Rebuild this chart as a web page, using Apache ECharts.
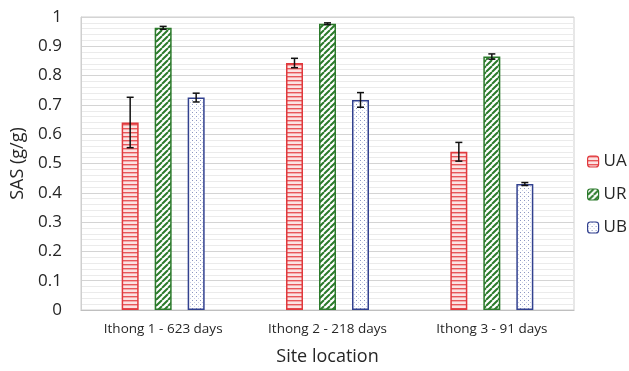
<!DOCTYPE html>
<html>
<head>
<meta charset="utf-8">
<script src="https://cdn.jsdelivr.net/npm/echarts@6/dist/echarts.min.js"></script>
<style>
  html, body { margin: 0; padding: 0; background: #fff; }
  #chart { width: 629px; height: 371px; }
</style>
</head>
<body>
<div id="chart"></div>
<script>
// Sites and measured specific absorption (g/g) with standard errors
const sites = ['Ithong 1 - 623 days', 'Ithong 2 - 218 days', 'Ithong 3 - 91 days'];
const seriesNames = ['UA', 'UR', 'UB'];
const uaValues = [0.64, 0.843, 0.54];
const urValues = [0.963, 0.977, 0.865];
const ubValues = [0.725, 0.717, 0.43];
const uaErrors = [0.086, 0.016, 0.032];
const urErrors = [0.005, 0.003, 0.009];
const ubErrors = [0.015, 0.025, 0.005];
const yTicks = [0, 0.1, 0.2, 0.3, 0.4, 0.5, 0.6, 0.7, 0.8, 0.9, 1];

const FONT = 'Open Sans';
const TEXT = '#262626';
const BAR_W = 17;
const BAR_STEP = 33;

// Fill patterns drawn on small canvases
function makePattern(w, h, draw) {
  const c = document.createElement('canvas');
  c.width = w; c.height = h;
  const ctx = c.getContext('2d');
  draw(ctx, w, h);
  return { image: c, repeat: 'repeat' };
}
const stripesRed = makePattern(4, 4, (ctx, w, h) => {
  ctx.fillStyle = '#fbe3e3'; ctx.fillRect(0, 0, w, h);
  ctx.fillStyle = '#e8575a'; ctx.fillRect(0, 0, w, 1.4);
});
const diagGreen = makePattern(6, 6, (ctx, w, h) => {
  ctx.fillStyle = '#ffffff'; ctx.fillRect(0, 0, w, h);
  ctx.strokeStyle = '#2b7a2b'; ctx.lineWidth = 2;
  ctx.beginPath();
  for (let k = -1; k <= 1; k++) {
    ctx.moveTo(k * w, h); ctx.lineTo(k * w + w, 0);
  }
  ctx.stroke();
});
const dotsBlue = makePattern(4, 4, (ctx, w, h) => {
  ctx.fillStyle = '#ffffff'; ctx.fillRect(0, 0, w, h);
  ctx.fillStyle = '#8d97c2'; ctx.fillRect(0, 0, 1, 1);
  ctx.fillStyle = '#c9cfe6'; ctx.fillRect(2, 2, 1, 1);
});

const fills = [stripesRed, diagGreen, dotsBlue];
const borders = ['#e0393d', '#2b7a2b', '#32418f'];
const values = [uaValues, urValues, ubValues];
const errors = [uaErrors, urErrors, ubErrors];

const barSeries = seriesNames.map((name, i) => ({
  name: name,
  type: 'bar',
  data: values[i],
  barWidth: BAR_W,
  barGap: ((BAR_STEP - BAR_W) / BAR_W * 100) + '%',
  itemStyle: { color: fills[i], borderColor: borders[i], borderWidth: 1.5 },
  z: 2
}));

const errorSeries = seriesNames.map((name, i) => ({
  type: 'custom',
  name: name + ' error',
  data: values[i].map((v, j) => [j, v - errors[i][j], v + errors[i][j]]),
  renderItem: function (params, api) {
    const lo = api.coord([api.value(0), api.value(1)]);
    const hi = api.coord([api.value(0), api.value(2)]);
    const x = lo[0] + (i - 1) * BAR_STEP;
    const cap = 3.5;
    const style = { stroke: '#111', lineWidth: 1.5 };
    return {
      type: 'group',
      children: [
        { type: 'line', shape: { x1: x, y1: lo[1], x2: x, y2: hi[1] }, style: style },
        { type: 'line', shape: { x1: x - cap, y1: lo[1], x2: x + cap, y2: lo[1] }, style: style },
        { type: 'line', shape: { x1: x - cap, y1: hi[1], x2: x + cap, y2: hi[1] }, style: style }
      ]
    };
  },
  z: 5,
  silent: true
}));

const chart = echarts.init(document.getElementById('chart'), null, { renderer: 'canvas' });
chart.setOption({
  animation: false,
  backgroundColor: '#ffffff',
  textStyle: { fontFamily: FONT },
  grid: {
    left: 81, right: 55, top: 17, bottom: 58,
    show: true, borderColor: '#cfcfcf', borderWidth: 1
  },
  legend: {
    data: seriesNames.map((n, i) => ({
      name: n,
      itemStyle: { color: fills[i], borderColor: borders[i], borderWidth: 1.2 }
    })),
    orient: 'vertical',
    left: 582, top: 148,
    itemWidth: 11, itemHeight: 11, itemGap: 16,
    textStyle: { fontFamily: FONT, fontSize: 17, color: TEXT }
  },
  xAxis: {
    type: 'category',
    data: sites,
    name: 'Site location',
    nameLocation: 'middle',
    nameGap: 38,
    nameTextStyle: { fontFamily: FONT, fontSize: 18, color: TEXT },
    axisLine: { lineStyle: { color: '#bfbfbf', width: 1.2 } },
    axisTick: { show: false },
    axisLabel: { fontFamily: FONT, fontSize: 13.5, color: TEXT, margin: 12 }
  },
  yAxis: {
    type: 'value',
    min: yTicks[0], max: yTicks[yTicks.length - 1], interval: 0.1,
    name: 'SAS (g/g)',
    nameLocation: 'middle',
    nameGap: 47,
    nameTextStyle: { fontFamily: FONT, fontSize: 18, color: TEXT },
    axisLine: { show: true, lineStyle: { color: '#cfcfcf' } },
    axisTick: { show: false },
    axisLabel: {
      fontFamily: FONT, fontSize: 17, color: TEXT, margin: 19,
      formatter: v => String(Math.round(v * 10) / 10)
    },
    splitLine: { lineStyle: { color: '#d4d4d4', width: 1 } },
    minorTick: { show: false, splitNumber: 5 },
    minorSplitLine: { show: true, lineStyle: { color: '#ebebeb', width: 1 } }
  },
  series: barSeries.concat(errorSeries)
});
</script>
</body>
</html>
